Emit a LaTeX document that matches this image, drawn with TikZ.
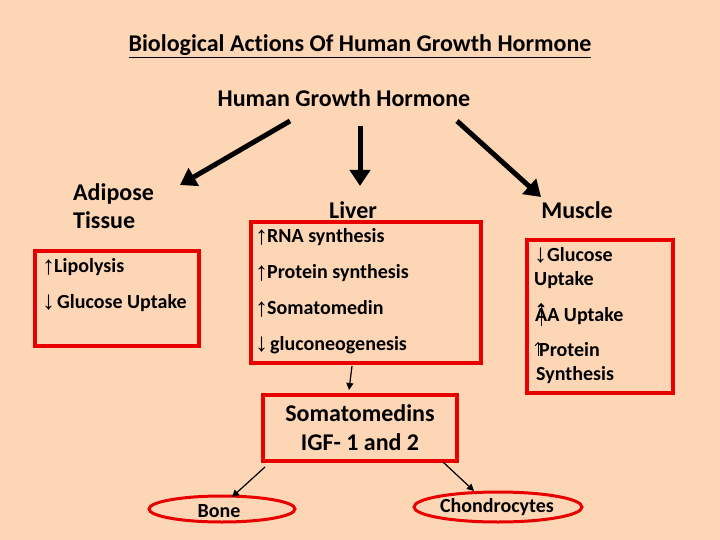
\documentclass[tikz,border=0pt]{standalone}
\usepackage{fontspec}
\setmainfont{Carlito}[RawFeature=-liga]
\newfontfamily\arrfont{Liberation Serif}
\usetikzlibrary{arrows.meta,shapes.geometric}
\definecolor{bgpeach}{RGB}{252,214,181}
\definecolor{boxred}{RGB}{232,0,0}
\newcommand{\upa}{\raisebox{-2pt}{\arrfont\bfseries\fontsize{26}{26}\selectfont ↑}}
\newcommand{\dna}{\raisebox{-1pt}{\arrfont\bfseries\fontsize{26}{26}\selectfont ↓}}
\tikzset{
  redbox/.style={draw=boxred, line width=4pt},
  bigarrow/.style={line width=5pt, -{Triangle[length=16pt,width=20pt]}},
  thinarrow/.style={line width=1.2pt, -{Triangle[length=7pt,width=7pt]}},
  tinyarrow/.style={line width=1pt, -{Straight Barb[length=3pt,width=6pt]}},
  head/.style={font=\bfseries\fontsize{24}{28}\selectfont, inner sep=0pt},
  item/.style={font=\bfseries\fontsize{20}{24}\selectfont, inner sep=0pt, anchor=west, align=left},
  oval/.style={font=\bfseries\fontsize{20}{24}\selectfont, inner sep=0pt},
}
\begin{document}
\begin{tikzpicture}[x=1pt,y=-1pt]
\fill[bgpeach] (0,0) rectangle (720,540);
\useasboundingbox (0,0) rectangle (720,540);

% titles
\node[head] (title) at (360,46) {\underline{Biological Actions Of Human Growth Hormone}};
\node[head] (hgh) at (344,98) {Human Growth Hormone};

% boxes
\draw[redbox] (35,251) rectangle (199,346);
\draw[redbox] (251,222) rectangle (481,363);
\draw[redbox] (527,240) rectangle (673,393);
\draw[redbox] (263,395) rectangle (457,461);
\node[draw=boxred, ellipse, minimum width=146pt, minimum height=26pt, line width=3pt, inner sep=0pt] (bone) at (222,509) {};
\node[draw=boxred, ellipse, minimum width=168pt, minimum height=30pt, line width=3pt, inner sep=0pt] (chon) at (498,507) {};
\node[oval] (bonet) at (219,511) {Bone};
\node[oval] (chont) at (497,507) {Chondrocytes};

% coordinates for box edges
\coordinate (somTop) at (349,390);
\coordinate (livBot) at (352,366);
\coordinate (somBL) at (265,467);
\coordinate (somBR) at (443,462);
\coordinate (boneT) at (232,497);
\coordinate (chonT) at (474,491);

% headings
\node[head, align=left, anchor=west, font=\bfseries\fontsize{24}{28}\selectfont] (adi) at (73,206) {Adipose\\Tissue};
\node[head] (liver) at (353,210) {Liver};
\node[head] (muscle) at (577,210) {Muscle};
\node[head, align=center, font=\bfseries\fontsize{24}{29}\selectfont] (som) at (360,428) {Somatomedins\\IGF- 1 and 2};

% big arrows
\coordinate (a1s) at (290,121);
\coordinate (a2s) at (360,126);
\coordinate (a3s) at (457,121);
\coordinate (a1e) at (180,185);
\coordinate (a2e) at (360,186);
\coordinate (a3e) at (541,197);
\draw[bigarrow] (a1s) -- (a1e);
\draw[bigarrow] (a2s) -- (a2e);
\draw[bigarrow] (a3s) -- (a3e);

% thin arrows
\draw[thinarrow] (livBot) -- (somTop);
\draw[thinarrow] (somBL) -- (boneT);
\draw[thinarrow] (somBR) -- (chonT);

% adipose items
\node[item] (lip) at (42,267) {\upa\kern-1pt Lipolysis};
\node[item] (glu) at (42,303) {\dna\kern2pt Glucose Uptake};

% liver items
\node[item] (rna) at (255,237) {\upa\kern-1pt RNA synthesis};
\node[item] (pro) at (255,273) {\upa\kern-1pt Protein synthesis};
\node[item] (soma) at (255,309) {\upa\kern-1pt Somatomedin};
\node[item] (gluco) at (255,345) {\dna\kern2pt gluconeogenesis};

% muscle items
\node[item] (mg) at (534,268) {\dna Glucose\\Uptake};
\node[item] (maa) at (535,315) {ÂA Uptake};
\node[item] (mp) at (536,363) {\kern3pt Protein\\Synthesis};
\coordinate (maaA) at (541,326);
\coordinate (maaB) at (541,303);
\coordinate (mpA) at (538,356);
\coordinate (mpB) at (538,342);
\draw[tinyarrow] (maaA) -- (maaB);
\draw[tinyarrow] (mpA) -- (mpB);
\end{tikzpicture}
\end{document}
